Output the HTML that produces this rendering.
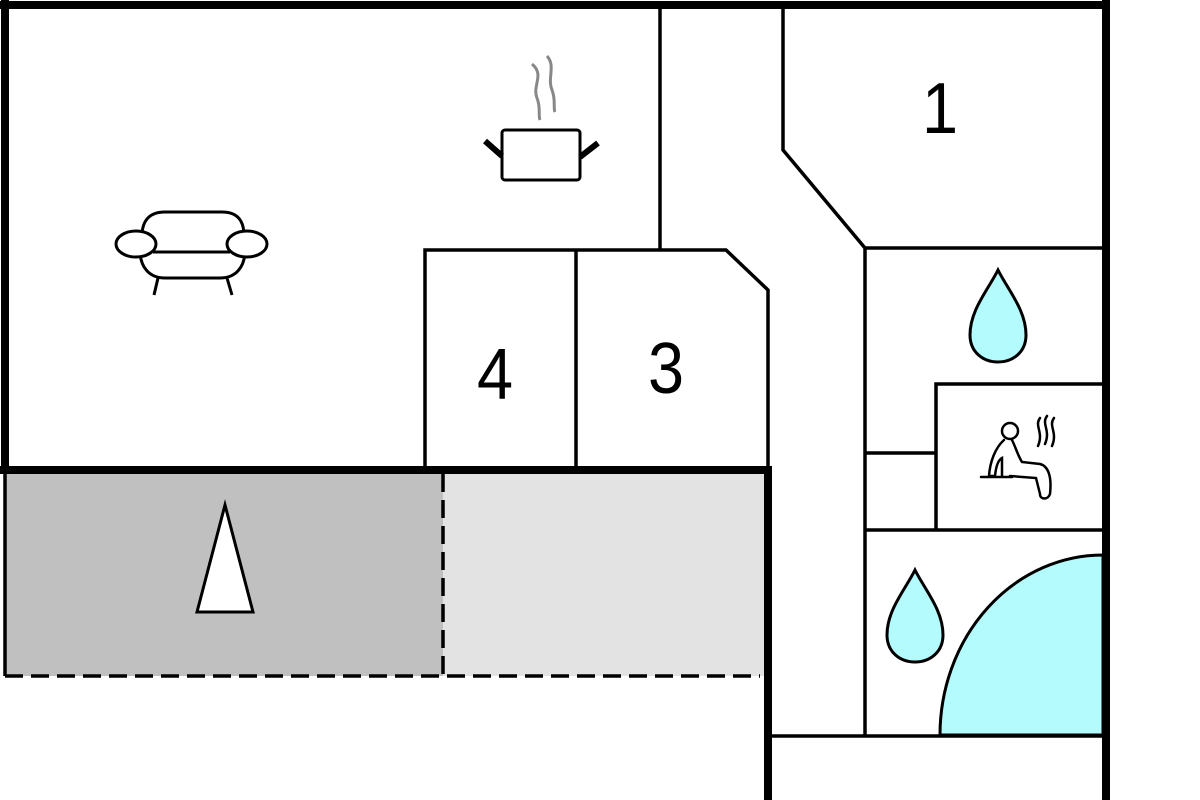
<!DOCTYPE html>
<html><head><meta charset="utf-8"><style>body{margin:0;background:#fff}svg{display:block}</style></head>
<body>
<svg width="1200" height="800" viewBox="0 0 1200 800" xmlns="http://www.w3.org/2000/svg">
<rect x="0" y="0" width="1200" height="800" fill="#fff"/>
<rect x="5" y="474" width="438" height="202" fill="#c0c0c0"/>
<rect x="443" y="474" width="322" height="202" fill="#e3e3e3"/>
<path d="M1103,735 L1103,555 A163,180 0 0 0 940,735 Z" fill="#b3fbfc" stroke="#000" stroke-width="3"/>
<g stroke="#000" stroke-width="3.5" fill="none">
<line x1="660" y1="5" x2="660" y2="250"/>
<polyline points="783,5 783,150 865,248 865,737"/>
<line x1="865" y1="248" x2="1103" y2="248"/>
<polyline points="425,470 425,250 726,250 768,290 768,470"/>
<line x1="576" y1="250" x2="576" y2="470"/>
<polyline points="936,530 936,384 1103,384"/>
<line x1="865" y1="453" x2="936" y2="453"/>
<line x1="865" y1="530" x2="1103" y2="530"/>
<line x1="768" y1="736" x2="1103" y2="736"/>
<line x1="5" y1="474" x2="5" y2="676"/>
<line x1="5" y1="676" x2="760" y2="676" stroke-dasharray="18,8"/>
<line x1="443" y1="474" x2="443" y2="676" stroke-dasharray="18,8"/>
</g>
<g stroke="#000" stroke-width="8" fill="none">
<line x1="0" y1="5" x2="1110" y2="5"/>
<line x1="5" y1="0" x2="5" y2="474"/>
<line x1="1106" y1="0" x2="1106" y2="800"/>
<line x1="0" y1="470" x2="772" y2="470"/>
<line x1="768" y1="466" x2="768" y2="800"/>
</g>
<polygon points="225,505 197,612 253,612" fill="#fff" stroke="#000" stroke-width="3"/>
<g font-family="Liberation Sans, sans-serif" font-size="72" text-anchor="middle" fill="#000">
<text transform="translate(940 133) scale(0.9 1)">1</text>
<text transform="translate(495 399) scale(0.9 1)">4</text>
<text transform="translate(666 393) scale(0.9 1)">3</text>
</g>
<g fill="#b3fbfc" stroke="#000" stroke-width="3">
<path d="M998,270 C1008,290 1026,310 1026,335 C1026,352 1013,362 998,362 C983,362 970,352 970,335 C970,310 988,290 998,270 Z"/>
<path d="M915,570 C925,590 943,610 943,635 C943,652 930,662 915,662 C900,662 887,652 887,635 C887,610 905,590 915,570 Z"/>
</g>
<g stroke="#000" fill="none">
<rect x="502" y="130" width="78" height="50" rx="3" stroke-width="3"/>
<line x1="485" y1="141" x2="502" y2="156" stroke-width="6"/>
<line x1="598" y1="143" x2="580" y2="157" stroke-width="6"/>
<path d="M532,64 C545,75 532,85 537,98 C541,108 538,115 540,120" stroke="#888" stroke-width="3"/>
<path d="M547,56 C556,66 547,78 552,90 C556,100 553,108 555,112" stroke="#888" stroke-width="3"/>
</g>
<g stroke="#000" stroke-width="3" fill="none">
<path d="M142,236 C142,220 150,212 165,212 L222,212 C237,212 244,220 244,236"/>
<path d="M140,250 C140,268 150,278 165,278 L220,278 C235,278 245,268 245,250"/>
<line x1="153" y1="252" x2="230" y2="252"/>
<ellipse cx="136" cy="244" rx="20" ry="13" fill="#fff"/>
<ellipse cx="247" cy="244" rx="20" ry="13" fill="#fff"/>
<line x1="158" y1="278" x2="154" y2="295"/>
<line x1="227" y1="278" x2="232" y2="295"/>
</g>
<g stroke="#000" stroke-width="2.5" fill="none" stroke-linecap="round">
<circle cx="1010" cy="431" r="8"/>
<path d="M1004,440 C995,448 990,462 989,476 L995,476 C996,466 998,460 1002,458 L1002,476 M1012,440 C1016,448 1018,456 1022,462 L1040,464 C1048,466 1052,476 1050,494 C1048,500 1040,500 1040,494 L1036,478 L1010,476"/>
<line x1="981" y1="477" x2="1012" y2="477"/>
<path d="M1040,418 C1034,426 1044,432 1038,446"/>
<path d="M1047,416 C1041,424 1051,430 1045,444"/>
<path d="M1054,418 C1048,426 1058,432 1052,446"/>
</g>
</svg>
</body></html>
